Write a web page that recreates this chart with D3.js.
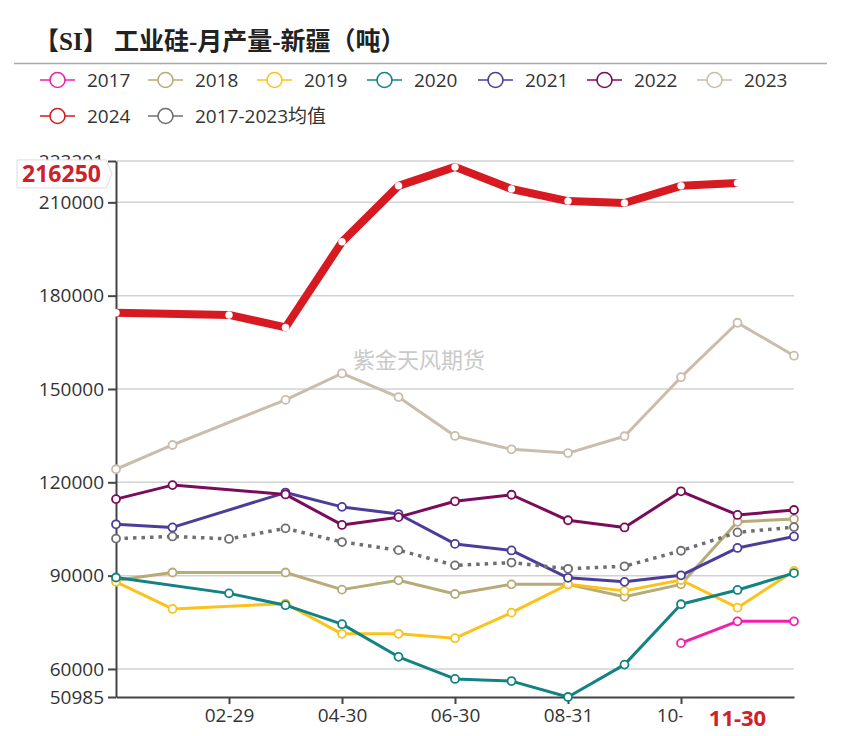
<!DOCTYPE html>
<html><head><meta charset="utf-8">
<script src="https://cdn.jsdelivr.net/npm/d3@7"></script>
<style>
html,body{margin:0;padding:0;background:#fff;}
svg{display:block;}
</style></head>
<body>
<svg id="chart" width="843" height="736"></svg>
<script>
// ---------------- data ----------------
const title = "【SI】 工业硅-月产量-新疆（吨）";
const categories = ["12-31","01-31","02-29","03-31","04-30","05-31","06-30","07-31","08-31","09-30","10-31","11-30","12-31"];
const xLabelIdx = [2,4,6,8,10];
const highlightIdx = 11;
const yTicks = [50985,60000,90000,120000,150000,180000,210000,223291];
const yMin = 50985, yMax = 223291;
const seriesNames = ["2017","2018","2019","2020","2021","2022","2023","2024","2017-2023均值"];
const seriesColors = ["#f020a8","#b7ab78","#fbc31a","#138282","#4d3d9b","#7b0c5c","#cabdab","#d71a21","#6f6f6f"];
const v2017 = [null,null,null,null,null,null,null,null,null,null,68300,75300,75300];
const v2018 = [88500,91000,null,91000,85500,88500,84100,87200,87200,83200,87200,107300,108200];
const v2019 = [88000,79300,null,81000,71300,71300,69900,78100,87200,85100,88600,79700,91500];
const v2020 = [89400,null,84300,80500,74400,63900,56800,56100,50985,61400,80800,85400,90800];
const v2021 = [106500,105500,null,116700,112100,109800,100200,98100,89300,88000,90100,98900,102600];
const v2022 = [114600,119100,null,116100,106300,108800,113900,116000,107800,105500,117100,109500,111100];
const v2023 = [124200,132000,null,146500,155000,147400,134900,130600,129400,134800,153800,171300,160700];
const v2024 = [174500,null,173800,169800,197300,215300,221400,214300,210400,209800,215300,216250,null];
const vAvg  = [101900,102600,101800,105200,100800,98200,93300,94200,92200,93000,98000,103900,105600];
const seriesValues = [v2017,v2018,v2019,v2020,v2021,v2022,v2023,v2024,vAvg];
const pointerValue = 216250;
const watermark = "紫金天风期货";

// ---------------- layout ----------------
const svg = d3.select("#chart");
const plot = {left:116, right:794, top:161, bottom:697};
const font = "'Open Sans','Noto Sans CJK SC',sans-serif";

const x = d3.scalePoint().domain(d3.range(categories.length)).range([plot.left, plot.right]);
const y = d3.scaleLinear().domain([yMin, yMax]).range([plot.bottom, plot.top]);

// title
svg.append("text").attr("x",34).attr("y",50)
  .attr("font-family","'Liberation Serif','Noto Sans CJK SC',serif")
  .attr("font-weight","bold").attr("font-size",25).attr("fill","#222")
  .text(title);
svg.append("line").attr("x1",14).attr("x2",827).attr("y1",63.5).attr("y2",63.5)
  .attr("stroke","#a8a8a8").attr("stroke-width",1.5);

// legend
const legendPos = [[40,80],[148,80],[257,80],[367,80],[478,80],[587,80],[697,80],[40,116],[148,116]];
seriesNames.forEach((n,i)=>{
  const g = svg.append("g").attr("transform",`translate(${legendPos[i][0]},${legendPos[i][1]})`);
  g.append("line").attr("x1",0).attr("x2",35).attr("y1",0).attr("y2",0)
    .attr("stroke",seriesColors[i]).attr("stroke-width",1.6);
  g.append("circle").attr("cx",17.5).attr("cy",0).attr("r",7.5)
    .attr("fill","#fff").attr("stroke",seriesColors[i]).attr("stroke-width",1.6);
  g.append("text").attr("x",47).attr("y",0).attr("dy","0.36em")
    .attr("font-family",font).attr("font-size",19).attr("fill","#333").text(n);
});

// grid
svg.append("g").selectAll("line").data(yTicks.filter(t=>t!==yMin)).join("line")
  .attr("x1",plot.left).attr("x2",plot.right)
  .attr("y1",d=>y(d)).attr("y2",d=>y(d))
  .attr("stroke","#d2d2d2").attr("stroke-width",1.5);

// watermark
svg.append("text").attr("x",353).attr("y",368)
  .attr("font-family","'Noto Sans CJK SC',sans-serif").attr("font-size",22)
  .attr("fill","#c9c9c9").text(watermark);

// y axis
const yAxis = svg.append("g").attr("transform",`translate(${plot.left},0)`)
  .call(d3.axisLeft(y).tickValues(yTicks).tickFormat(d=>String(d)).tickSize(8).tickSizeOuter(0));
yAxis.select(".domain").attr("stroke","#444").attr("stroke-width",2);
yAxis.selectAll(".tick line").attr("stroke","#444").attr("stroke-width",2);
yAxis.selectAll(".tick text").attr("font-family",font).attr("font-size",19).attr("fill","#333").attr("x",-12);

// x axis
const xAxis = svg.append("g").attr("transform",`translate(0,${plot.bottom})`)
  .call(d3.axisBottom(x).tickValues(xLabelIdx).tickFormat(i=>categories[i]).tickSize(7).tickSizeOuter(0));
xAxis.select(".domain").attr("stroke","#444").attr("stroke-width",2);
xAxis.selectAll(".tick line").attr("stroke","#444").attr("stroke-width",2);
xAxis.selectAll(".tick text").attr("font-family",font).attr("font-size",19).attr("fill","#333").attr("y",12);

// lines
const line = d3.line().x(d=>x(d.i)).y(d=>y(d.v));
seriesValues.forEach((vals,si)=>{
  const pts = vals.map((v,i)=>({i,v})).filter(d=>d.v!==null);
  const isMain = si===7, isAvg = si===8;
  svg.append("path").datum(pts).attr("d",line).attr("fill","none")
    .attr("stroke",seriesColors[si])
    .attr("stroke-width",isMain?8:(isAvg?3.5:3))
    .attr("stroke-linejoin","round")
    .attr("stroke-dasharray",isAvg?"3.5,5":null);
  svg.append("g").selectAll("circle").data(pts).join("circle")
    .attr("cx",d=>x(d.i)).attr("cy",d=>y(d.v))
    .attr("r",isMain?3.5:4)
    .attr("fill","#fff")
    .attr("stroke",isMain?"#fff":seriesColors[si])
    .attr("stroke-width",isMain?0.5:1.8);
});

// y pointer label
const py = y(pointerValue) - 9;
const bx0 = 17, bx1 = 106, bh = 28;
svg.append("path")
  .attr("d",`M${bx0},${py-bh/2} L${bx1},${py-bh/2} L${bx1+6},${py} L${bx1},${py+bh/2} L${bx0},${py+bh/2} Z`)
  .attr("fill","#fff").attr("stroke","#dcdcdc").attr("stroke-width",1);
svg.append("text").attr("x",(bx0+bx1)/2).attr("y",py).attr("dy","0.36em")
  .attr("text-anchor","middle").attr("font-family",font).attr("font-weight","bold")
  .attr("font-size",23).attr("fill","#d0202a").text(String(pointerValue));

// x pointer label
const hx = x(highlightIdx);
svg.append("rect").attr("x",hx-55).attr("y",plot.bottom+8).attr("width",110).attr("height",34).attr("fill","#fff");
svg.append("text").attr("x",hx).attr("y",plot.bottom+21).attr("dy","0.36em")
  .attr("text-anchor","middle").attr("font-family",font).attr("font-weight","bold")
  .attr("font-size",22).attr("fill","#d0202a").text(categories[highlightIdx]);
</script>
</body></html>
